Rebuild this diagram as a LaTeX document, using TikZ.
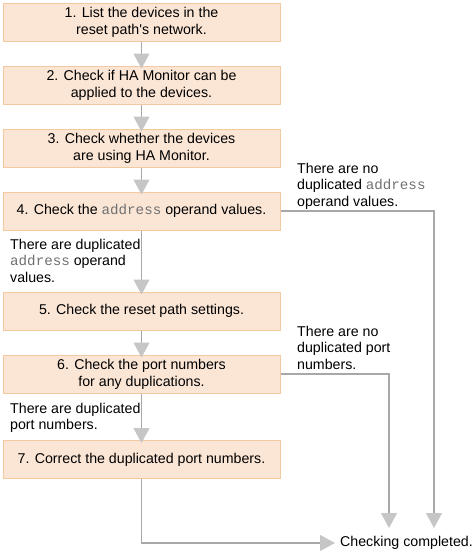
\documentclass[tikz,border=0pt]{standalone}
\usepackage{fontspec}
\setmainfont{Liberation Sans}
\newfontfamily\monofnt{Liberation Mono}
\usetikzlibrary{arrows.meta}
\definecolor{boxfill}{HTML}{FBE6D6}
\definecolor{boxline}{HTML}{F3C9A2}
\definecolor{linegray}{HTML}{A8A8A8}
\definecolor{tipgray}{HTML}{C6C6C6}
\definecolor{codegray}{HTML}{707070}
\newcommand{\addr}{{\monofnt\color{codegray}address}}
\begin{document}
\begin{tikzpicture}[x=1pt,y=-1pt,
  every node/.style={font=\fontsize{14.2}{17}\selectfont},
  stepbox/.style={draw=boxline,fill=boxfill,line width=1pt,minimum width=277pt,minimum height=38pt,inner sep=0pt,align=center},
  lbl/.style={anchor=north west,inner sep=0pt,align=left,font=\fontsize{14.2}{16.5}\selectfont},
  conn/.style={draw=linegray,line width=1.1pt},
  arr/.style={conn,-{Triangle[width=16pt,length=15pt,fill=tipgray,color=tipgray]}}]
\useasboundingbox (0,0) rectangle (476,555);
\node[stepbox] (b1) at (141.5,22) {1. List the devices in the\\reset path\textquotesingle s network.};
\node[stepbox] (b2) at (141.5,85) {2. Check if HA Monitor can be\\applied to the devices.};
\node[stepbox] (b3) at (141.5,148) {3. Check whether the devices\\are using HA Monitor.};
\node[stepbox] (b4) at (141.5,211) {4. Check the \addr{} operand values.};
\node[stepbox] (b5) at (141.5,311) {5. Check the reset path settings.};
\node[stepbox] (b6) at (141.5,374) {6. Check the port numbers\\for any duplications.};
\node[stepbox] (b7) at (141.5,459.5) {7. Correct the duplicated port numbers.};
\node[lbl] (la) at (297,163) {There are no\\duplicated \addr\\operand values.};
\node[lbl] (lb) at (297,326) {There are no\\duplicated port\\numbers.};
\node[lbl] (lc) at (10,239) {There are duplicated\\\addr{} operand\\values.};
\node[lbl] (ld) at (10,403) {There are duplicated\\port numbers.};
\node[anchor=west,inner sep=0pt] (done) at (340,543) {Checking completed.};
\coordinate (c1) at (434,528);
\coordinate (c2) at (389,528);
\draw[arr,shorten >=-3pt] (b1.south) -- (b2.north);
\draw[arr,shorten >=-3pt] (b2.south) -- (b3.north);
\draw[arr,shorten >=-3pt] (b3.south) -- (b4.north);
\draw[arr,shorten >=-3pt] (b4.south) -- (b5.north);
\draw[arr,shorten >=-3pt] (b5.south) -- (b6.north);
\draw[arr,shorten >=-3pt] (b6.south) -- (b7.north);
\draw[arr] (b4.east) -| (c1);
\draw[arr] (b6.east) -| (c2);
\draw[arr,shorten >=5pt] (b7.south) |- (done.west);
\end{tikzpicture}
\end{document}
